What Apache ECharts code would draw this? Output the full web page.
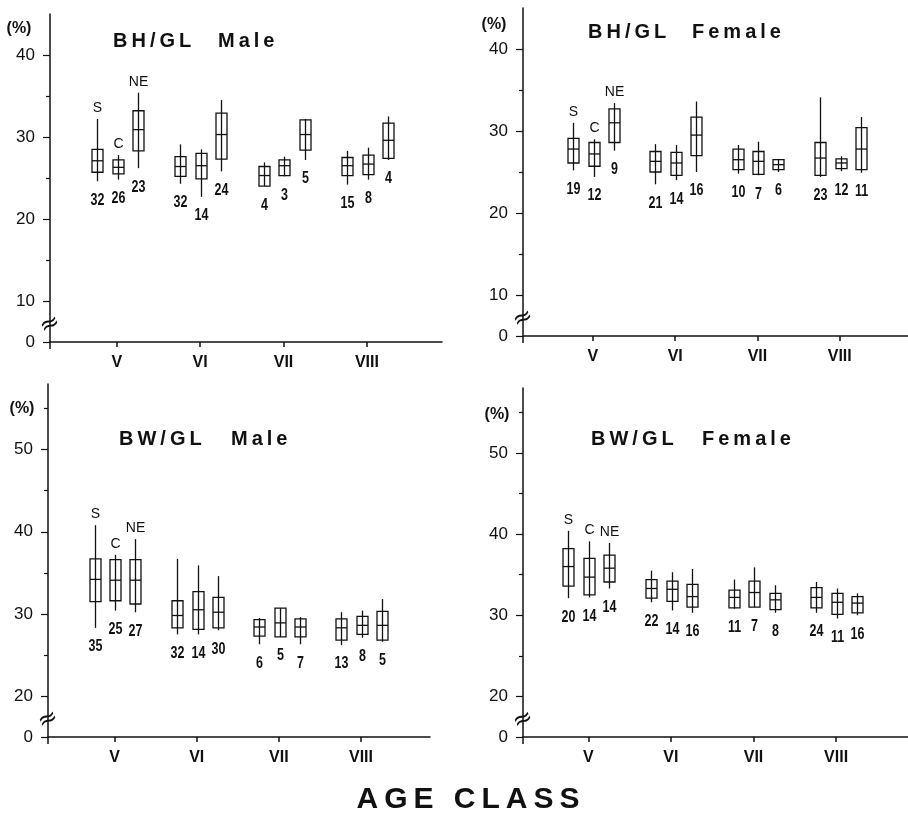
<!DOCTYPE html>
<html><head><meta charset="utf-8">
<script src="https://cdn.jsdelivr.net/npm/echarts@6/dist/echarts.min.js"></script>
<style>html,body{margin:0;padding:0;background:#fff}#c{width:908px;height:814px}</style>
</head><body><div id="c"></div>
<script>
// ---------- data ----------
const ageClasses = ['V', 'VI', 'VII', 'VIII'];
const regions = ['S', 'C', 'NE'];
// [whisker low, box low, median, box high, whisker high], order: V(S,C,NE), VI(...), VII(...), VIII(...)
const bhMale = [
  [24.6, 25.7, 27.1, 28.5, 32.2], [24.8, 25.5, 26.3, 27.2, 27.8], [26.2, 28.3, 30.9, 33.2, 35.4],
  [24.3, 25.2, 26.4, 27.6, 29.1], [22.7, 24.9, 26.5, 28.0, 28.5], [25.8, 27.3, 30.3, 32.9, 34.5],
  [24.0, 24.0, 25.3, 26.4, 26.9], [25.2, 25.3, 26.5, 27.2, 27.6], [27.2, 28.4, 30.3, 32.1, 32.2],
  [24.2, 25.3, 26.5, 27.5, 28.3], [24.8, 25.4, 26.7, 27.8, 28.7], [27.2, 27.4, 29.6, 31.7, 32.5]
];
const bhMaleN = [32, 26, 23, 32, 14, 24, 4, 3, 5, 15, 8, 4];
const bhFemale = [
  [25.2, 26.1, 27.8, 29.1, 31.0], [24.4, 25.7, 27.2, 28.6, 29.0], [27.6, 28.6, 31.0, 32.7, 33.4],
  [23.5, 25.0, 26.3, 27.5, 28.4], [24.0, 24.6, 26.1, 27.4, 28.3], [25.0, 27.0, 29.5, 31.7, 33.6],
  [24.8, 25.3, 26.5, 27.8, 28.3], [24.6, 24.7, 26.3, 27.5, 28.7], [25.0, 25.3, 25.9, 26.5, 26.6],
  [24.4, 24.6, 26.7, 28.6, 34.1], [25.1, 25.4, 26.1, 26.6, 26.9], [24.9, 25.3, 27.8, 30.4, 31.7]
];
const bhFemaleN = [19, 12, 9, 21, 14, 16, 10, 7, 6, 23, 12, 11];
const bwMale = [
  [28.3, 31.5, 34.2, 36.7, 40.8], [30.4, 31.6, 34.1, 36.6, 37.2], [30.2, 31.2, 34.1, 36.6, 39.1],
  [27.5, 28.3, 29.8, 31.6, 36.7], [27.5, 28.1, 30.5, 32.7, 35.9], [28.0, 28.3, 30.2, 32.0, 34.6],
  [26.3, 27.3, 28.4, 29.3, 29.5], [27.2, 27.2, 28.9, 30.7, 30.7], [26.3, 27.2, 28.4, 29.4, 29.6],
  [26.2, 26.8, 28.3, 29.4, 30.2], [27.1, 27.5, 28.6, 29.7, 30.4], [26.6, 26.8, 28.6, 30.3, 31.8]
];
const bwMaleN = [35, 25, 27, 32, 14, 30, 6, 5, 7, 13, 8, 5];
const bwFemale = [
  [32.1, 33.6, 36.0, 38.2, 40.4], [32.2, 32.5, 34.7, 37.0, 39.1], [33.3, 34.1, 35.8, 37.4, 38.9],
  [31.6, 32.1, 33.3, 34.4, 35.5], [30.6, 31.7, 33.2, 34.2, 35.3], [30.3, 31.0, 32.3, 33.8, 35.7],
  [30.8, 30.9, 32.2, 33.1, 34.4], [31.0, 31.0, 32.8, 34.2, 35.9], [30.3, 30.7, 31.9, 32.7, 33.7],
  [30.3, 30.9, 32.2, 33.4, 34.1], [29.6, 30.1, 31.6, 32.7, 33.3], [30.0, 30.3, 31.5, 32.3, 32.7]
];
const bwFemaleN = [20, 14, 14, 22, 14, 16, 11, 7, 8, 24, 11, 16];

const bhTickLabels = [10, 20, 30, 40];
const bwTickLabels = [20, 30, 40, 50];

// ---------- layout ----------
const panels = [
  { name: ['BH/GL', 'Male'], data: bhMale, n: bhMaleN, grid: { left: 50, top: 14, width: 392, height: 328 },
    x: [0.2, 4.9], y: [5, 45], labels: bhTickLabels, minor: [15, 25, 35],
    t1: [113, 42], t2: [218, 42], pct: [19, 29] },
  { name: ['BH/GL', 'Female'], data: bhFemale, n: bhFemaleN, grid: { left: 523, top: 8, width: 385, height: 328 },
    x: [0.15, 4.83], y: [5, 45], labels: bhTickLabels, minor: [15, 25, 35],
    t1: [588, 33], t2: [692, 33], pct: [494, 25] },
  { name: ['BW/GL', 'Male'], data: bwMale, n: bwMaleN, grid: { left: 48, top: 384, width: 382, height: 353 },
    x: [0.19, 4.84], y: [15, 58], labels: bwTickLabels, minor: [25, 35, 45, 55],
    t1: [119, 440], t2: [231, 440], pct: [22, 409] },
  { name: ['BW/GL', 'Female'], data: bwFemale, n: bwFemaleN, grid: { left: 523, top: 388, width: 385, height: 349 },
    x: [0.21, 4.87], y: [15, 58], labels: bwTickLabels, minor: [25, 35, 45, 55],
    t1: [591, 440], t2: [702, 440], pct: [497, 415] }
];
const offsets = [-0.24, 0.01, 0.255];
const BOXW = 11;

const axisColor = '#111';
const grids = [], xAxes = [], yAxes = [], series = [];

function renderItem(params, api) {
  const x = api.value(0) + offsets[api.value(1)];
  const lo = api.coord([x, api.value(2)]);
  const q1 = api.coord([x, api.value(3)]);
  const md = api.coord([x, api.value(4)]);
  const q3 = api.coord([x, api.value(5)]);
  const hi = api.coord([x, api.value(6)]);
  const cx = Math.round(lo[0]) + 0.5;
  const h = BOXW / 2;
  const st = { stroke: '#111', lineWidth: 1.3, fill: null };
  const children = [
    { type: 'line', shape: { x1: cx, y1: hi[1], x2: cx, y2: lo[1] }, style: st },
    { type: 'rect', shape: { x: cx - h, y: q3[1], width: BOXW, height: q1[1] - q3[1] }, style: st },
    { type: 'line', shape: { x1: cx - h, y1: md[1], x2: cx + h, y2: md[1] }, style: st },
    { type: 'text', x: cx, y: lo[1] + 19, scaleX: 0.78,
      style: { text: String(api.value(7)), x: 0, y: 0, align: 'center', verticalAlign: 'middle',
        font: 'bold 16px "Liberation Sans", Arial, sans-serif', fill: '#111' } }
  ];
  if (api.value(0) === 1) {
    children.push({ type: 'text', style: { text: regions[api.value(1)], x: cx, y: hi[1] - 11, align: 'center', verticalAlign: 'middle',
      font: '14px "Liberation Sans", Arial, sans-serif', fill: '#111' } });
  }
  return { type: 'group', children };
}

panels.forEach((p, i) => {
  grids.push(Object.assign({ containLabel: false }, p.grid));
  xAxes.push({
    type: 'value', gridIndex: i, min: p.x[0], max: p.x[1],
    axisLine: { show: true, onZero: false, lineStyle: { color: axisColor, width: 1.5 } },
    axisTick: { show: true, customValues: [1, 2, 3, 4], length: 5, lineStyle: { color: axisColor, width: 1.5 } },
    axisLabel: { customValues: [1, 2, 3, 4], formatter: v => ageClasses[Math.round(v) - 1], margin: 13,
      fontSize: 16, fontWeight: 'bold', color: '#111', fontFamily: '"Liberation Sans", Arial, sans-serif' },
    splitLine: { show: false }
  });
  const labelVals = [p.y[0]].concat(p.labels);
  yAxes.push({
    type: 'value', gridIndex: i, position: 'left', offset: 0, min: p.y[0], max: p.y[1],
    axisLine: { show: true, onZero: false, lineStyle: { color: axisColor, width: 1.5 } },
    axisTick: { show: true, customValues: labelVals, length: 7, lineStyle: { color: axisColor, width: 1.2 } },
    axisLabel: { customValues: labelVals, formatter: v => (v === p.y[0] ? '0' : String(v)), margin: 15,
      fontSize: 17, color: '#111', fontFamily: '"Liberation Sans", Arial, sans-serif' },
    splitLine: { show: false }
  });
  yAxes.push({
    type: 'value', gridIndex: i, position: 'left', offset: 0, min: p.y[0], max: p.y[1],
    axisLine: { show: false, onZero: false },
    axisTick: { show: true, customValues: p.minor, length: 4, lineStyle: { color: axisColor, width: 1.2 } },
    axisLabel: { show: false }, splitLine: { show: false }
  });
  const d = p.data.map((v, k) => [Math.floor(k / 3) + 1, k % 3].concat(v, [p.n[k]]));
  series.push({
    type: 'custom', xAxisIndex: i, yAxisIndex: i * 2, data: d, renderItem,
    encode: { x: 0, y: [2, 6] }, silent: true, animation: false, clip: false
  });
});

const chart = echarts.init(document.getElementById('c'), null, { renderer: 'canvas' });
chart.setOption({ backgroundColor: '#fff', animation: false, grid: grids, xAxis: xAxes, yAxis: yAxes, series });

// text graphics (titles, units, axis breaks, axis title)
const sp = s => s.split('').join('\u2009');
const g = [];
panels.forEach((p, i) => {
  const tf = 'bold 20px "Liberation Sans", Arial, sans-serif';
  g.push({ type: 'text', left: p.t1[0], top: p.t1[1] - 11, style: { text: sp(p.name[0]), font: tf, fill: '#111' } });
  g.push({ type: 'text', left: p.t2[0], top: p.t2[1] - 11, style: { text: sp(p.name[1]), font: tf, fill: '#111' } });
  g.push({ type: 'text', x: p.pct[0], y: p.pct[1], style: { text: '(%)', font: 'bold 16px "Liberation Sans", Arial, sans-serif',
    fill: '#111', align: 'center', verticalAlign: 'middle' } });
  const bp = chart.convertToPixel({ gridIndex: i }, [p.x[0], p.y[0] + 2.1]);
  g.push({ type: 'text', x: bp[0], y: bp[1], rotation: 0.45, style: { text: '\u2248', font: '24px "DejaVu Sans", sans-serif',
    fill: '#111', align: 'center', verticalAlign: 'middle' } });
  // short extension of the y axis below the x axis, as in the original
  const z = chart.convertToPixel({ gridIndex: i }, [p.x[0], p.y[0]]);
  g.push({ type: 'line', shape: { x1: z[0], y1: z[1], x2: z[0], y2: z[1] + 7 }, style: { stroke: axisColor, lineWidth: 1.5 } });
});
g.push({ type: 'text', x: 468, y: 800, style: { text: sp('AGE') + '\u2009\u2009 ' + sp('CLASS'),
  font: 'bold 30px "Liberation Sans", Arial, sans-serif', fill: '#111', align: 'center', verticalAlign: 'middle' } });
chart.setOption({ graphic: g });
</script></body></html>
